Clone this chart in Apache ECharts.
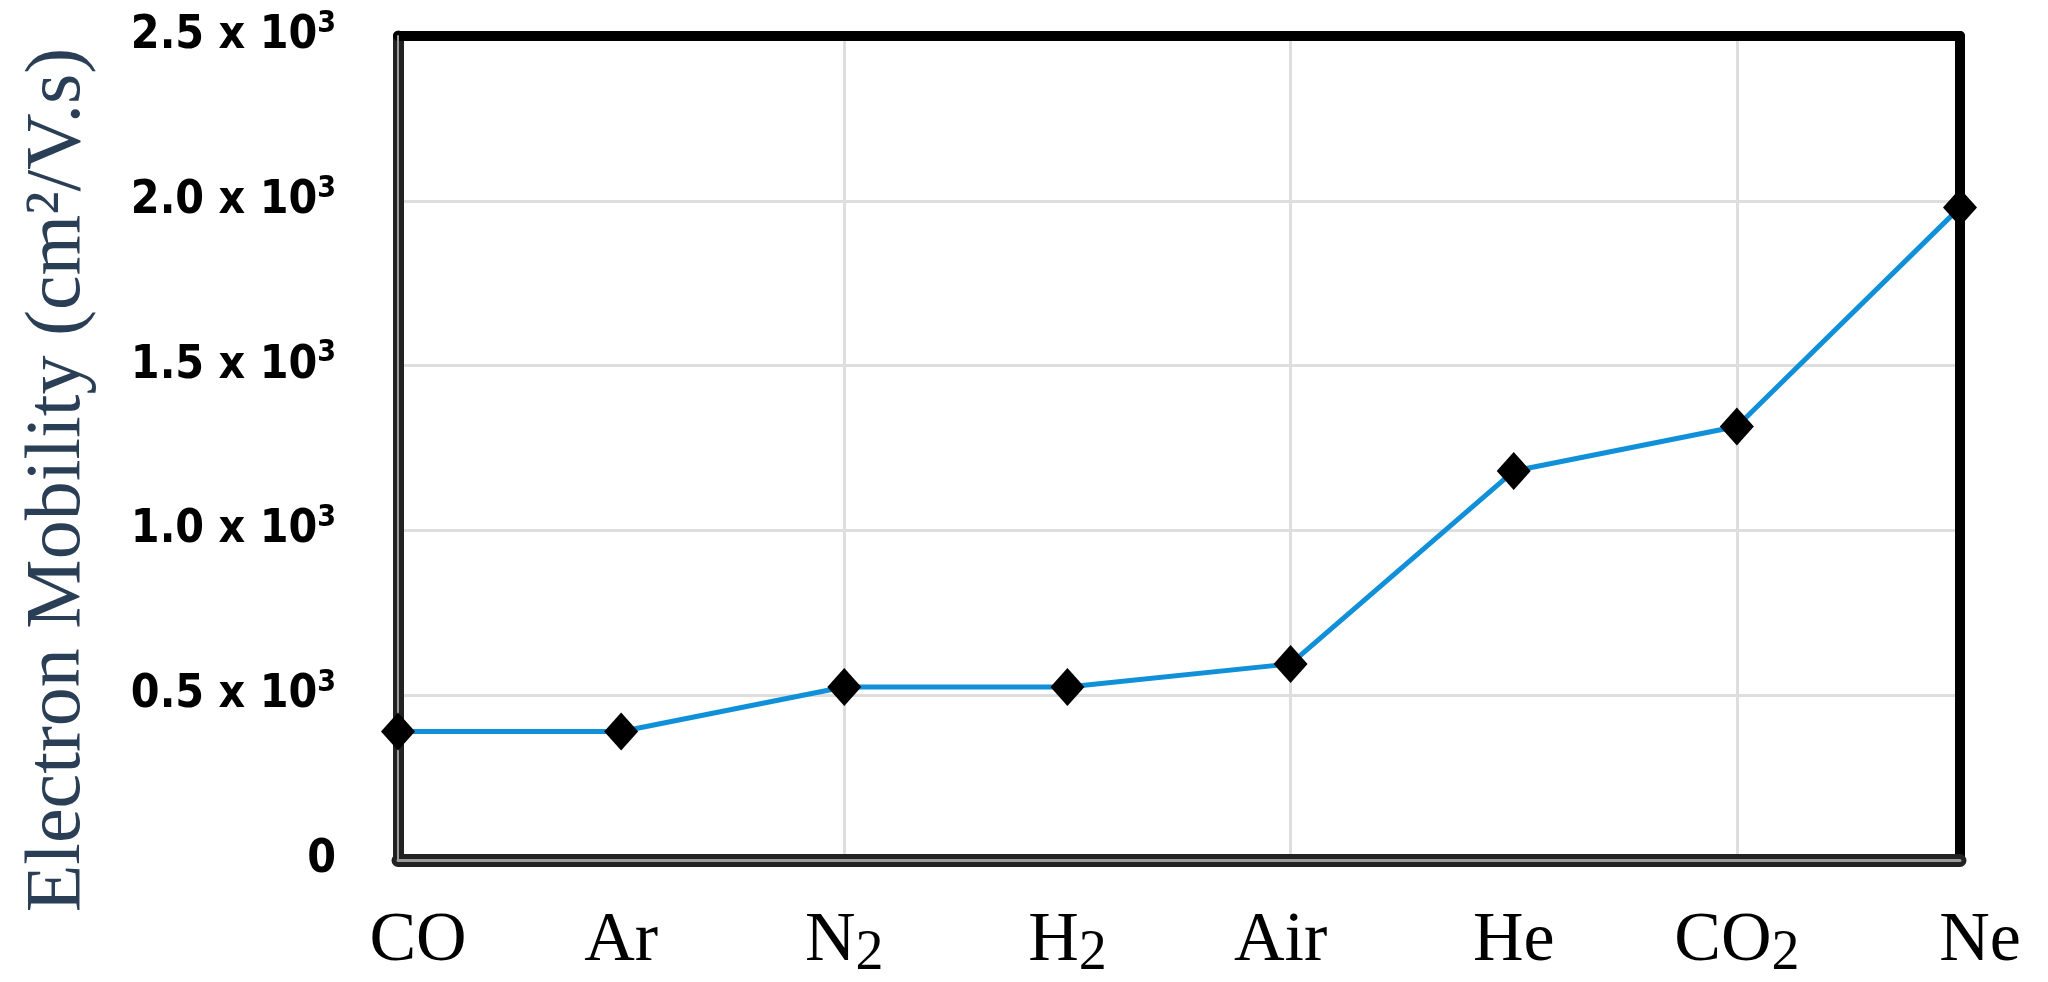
<!DOCTYPE html>
<html>
<head>
<meta charset="utf-8">
<script src="https://cdn.jsdelivr.net/npm/echarts@6/dist/echarts.min.js"></script>
<style>
  html, body { margin: 0; padding: 0; background: #ffffff; }
  #chart { width: 2048px; height: 982px; }
</style>
</head>
<body>
<div id="chart"></div>
<script>
// ---- data ----
const gases = ['CO', 'Ar', 'N2', 'H2', 'Air', 'He', 'CO2', 'Ne'];
const mobility = [390, 390, 525, 525, 595, 1180, 1315, 1980];
const yTicks = [0, 500, 1000, 1500, 2000, 2500];
const yTickLabels = ['0', '0.5 x 10', '1.0 x 10', '1.5 x 10', '2.0 x 10', '2.5 x 10'];
const yTitle = 'Electron Mobility (cm\u00B2/V.s)';

// small horizontal nudges of individual category labels (layout only)
const labelNudge = { CO: 'R', Ne: 'R', Air: 'L' };

const chart = echarts.init(document.getElementById('chart'), null, { renderer: 'canvas' });

function gasLabel(name) {
  const key = labelNudge[name] ? 'm' + labelNudge[name] : 'm';
  const m = name.match(/^(.*?)(\d+)$/);
  if (m) return '{' + key + '|' + m[1] + '}{s|' + m[2] + '}';
  return '{' + key + '|' + name + '}';
}
function yLabel(v) {
  const i = yTicks.indexOf(v);
  if (i < 0) return '';
  if (v === 0) return '{m|' + yTickLabels[i] + '}';
  return '{m|' + yTickLabels[i] + '}{s|3}';
}

const darkLine = '#222222';
const greyStripe = '#9a9a9a';
const serif = 'Liberation Serif';
const xMain = { fontFamily: serif, fontSize: 70, color: '#000', lineHeight: 80 };

const option = {
  backgroundColor: '#ffffff',
  animation: false,
  grid: { left: 398, right: 88, top: 36, bottom: 120, containLabel: false },
  xAxis: [
    {
      type: 'category', data: gases, boundaryGap: false, position: 'bottom',
      axisLine: { onZero: false, lineStyle: { color: darkLine, width: 13, cap: 'round' } },
      axisTick: { show: false },
      axisLabel: {
        margin: 42, interval: 0,
        formatter: gasLabel,
        rich: {
          m: xMain,
          mR: Object.assign({}, xMain, { padding: [0, 0, 0, 40] }),
          mL: Object.assign({}, xMain, { padding: [0, 20, 0, 0] }),
          s: { fontFamily: serif, fontSize: 56, color: '#000', lineHeight: 58, verticalAlign: 'bottom' }
        }
      },
      splitLine: {
        show: true,
        interval: function (idx) { return idx % 2 === 0 && idx > 0 && idx < gases.length - 1; },
        lineStyle: { color: '#dedede', width: 3 }
      },
      z: 3
    },
    {
      type: 'category', data: gases, boundaryGap: false, position: 'top',
      axisLine: { onZero: false, lineStyle: { color: '#000', width: 10, cap: 'round' } },
      axisTick: { show: false }, axisLabel: { show: false }, splitLine: { show: false }, z: 3
    },
    {
      type: 'category', data: gases, boundaryGap: false, position: 'bottom',
      axisLine: { onZero: false, lineStyle: { color: greyStripe, width: 3 } },
      axisTick: { show: false }, axisLabel: { show: false }, splitLine: { show: false }, z: 4
    }
  ],
  yAxis: [
    {
      type: 'value', min: 0, max: 2500, interval: 500, position: 'left',
      name: yTitle, nameLocation: 'middle', nameGap: 300, nameRotate: 90,
      nameTextStyle: { fontFamily: serif, fontSize: 78, color: '#2a3f55', padding: [0, 64, 0, 0] },
      axisLine: { show: true, onZero: false, lineStyle: { color: darkLine, width: 11, cap: 'round' } },
      axisTick: { show: false },
      axisLabel: {
        margin: 62,
        formatter: yLabel,
        rich: {
          m: { fontFamily: 'DejaVu Sans Condensed, DejaVu Sans', fontWeight: 'bold', fontSize: 46, color: '#000', lineHeight: 54 },
          s: { fontFamily: 'DejaVu Sans Condensed, DejaVu Sans', fontWeight: 'bold', fontSize: 30, color: '#000', lineHeight: 36, verticalAlign: 'top' }
        }
      },
      splitLine: { show: true, lineStyle: { color: '#dedede', width: 3 } },
      z: 3
    },
    {
      type: 'value', min: 0, max: 2500, position: 'left',
      axisLine: { show: true, onZero: false, lineStyle: { color: greyStripe, width: 2 } },
      axisTick: { show: false }, axisLabel: { show: false }, splitLine: { show: false }, z: 4
    },
    {
      type: 'value', min: 0, max: 2500, position: 'right',
      axisLine: { show: true, onZero: false, lineStyle: { color: '#000', width: 10, cap: 'round' } },
      axisTick: { show: false }, axisLabel: { show: false }, splitLine: { show: false }, z: 3
    }
  ],
  series: [
    {
      type: 'line', xAxisIndex: 0, yAxisIndex: 0,
      data: mobility,
      clip: false,
      symbol: 'diamond', symbolSize: [34, 38],
      itemStyle: { color: '#000' },
      lineStyle: { color: '#1090d8', width: 5 },
      z: 10
    }
  ]
};
chart.setOption(option);
</script>
</body>
</html>
